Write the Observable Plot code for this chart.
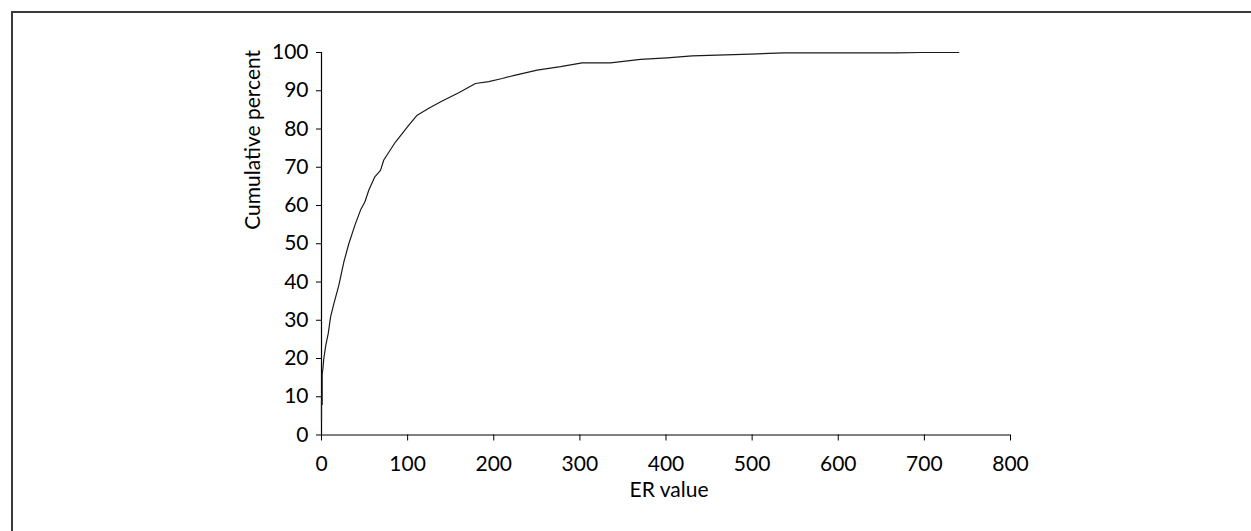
<!DOCTYPE html>
<html>
<head>
<meta charset="utf-8">
<script src="https://cdn.jsdelivr.net/npm/d3@7"></script>
<script src="https://cdn.jsdelivr.net/npm/@observablehq/plot@0.6"></script>
<style>
  html, body { margin: 0; padding: 0; background: #fff; overflow: hidden; }
  #wrap { position: relative; width: 1251px; height: 531px; }
  #frame { position: absolute; left: 11px; top: 11px; width: 1400px; height: 700px;
           border-left: 2px solid #3a3a3a; border-top: 2px solid #3a3a3a; pointer-events: none; }
  #chart { position: absolute; left: 0; top: 0; }
</style>
</head>
<body>
<div id="wrap"><div id="chart"></div><div id="frame"></div></div>
<script>
// ER value (x) and cumulative percent (y)
const erValue = [0, 0, 0.8, 0.8, 1.5, 2.7, 5, 7.8, 10.5, 14.3, 20.1, 25.9, 31.7, 38.7, 45.3, 50.3, 54.9, 61.9, 68.5, 72.3, 85.9, 101.4, 111.1, 124.6, 140.1, 159.4, 178.8, 194.2, 209.8, 225.2, 250.4, 277.6, 302.6, 335.5, 370.4, 401.3, 430.3, 498, 536.7, 668, 696, 740];
const cumPercent = [3.5, 9, 8, 16, 17, 20, 23.5, 26.5, 30.8, 34.3, 39.1, 45.2, 50, 54.8, 58.8, 60.9, 64, 67.5, 69.2, 71.9, 76.6, 81, 83.6, 85.4, 87.3, 89.5, 91.9, 92.4, 93.2, 94.1, 95.4, 96.3, 97.3, 97.3, 98.2, 98.6, 99.1, 99.6, 99.9, 99.9, 100, 100];
const xTicks = [0, 100, 200, 300, 400, 500, 600, 700, 800];
const yTicks = [0, 10, 20, 30, 40, 50, 60, 70, 80, 90, 100];
const xTitle = "ER value";
const yTitle = "Cumulative percent";

const data = erValue.map((v, i) => ({er: v, pct: cumPercent[i]}));
const font = "Lato, 'Open Sans', sans-serif";

const chart = Plot.plot({
  width: 1251,
  height: 531,
  marginLeft: 321,
  marginRight: 241,
  marginTop: 52,
  marginBottom: 96.5,
  style: {fontFamily: font, fontSize: "21px", color: "#000", background: "transparent"},
  x: {domain: [0, 800]},
  y: {domain: [0, 100]},
  marks: [
    Plot.axisX({ticks: xTicks, tickSize: 6, tickPadding: 15, label: null, stroke: "#000", fontSize: 21}),
    Plot.axisY({ticks: yTicks, tickSize: 5, tickPadding: 8, label: null, stroke: "#000", fontSize: 21}),
    Plot.ruleX([0], {stroke: "#000", strokeWidth: 1.2}),
    Plot.ruleY([0], {stroke: "#000", strokeWidth: 1.2}),
    Plot.line(data, {x: "er", y: "pct", stroke: "#1a1a1a", strokeWidth: 1.2}),
    Plot.text([xTitle], {frameAnchor: "bottom", dy: 62, dx: 3, fontSize: 21, fill: "#000"}),
    Plot.text([yTitle], {frameAnchor: "left", dx: -68, dy: -14, rotate: -90, fontSize: 21, fill: "#000"})
  ]
});
document.getElementById("chart").appendChild(chart);
</script>
</body>
</html>
